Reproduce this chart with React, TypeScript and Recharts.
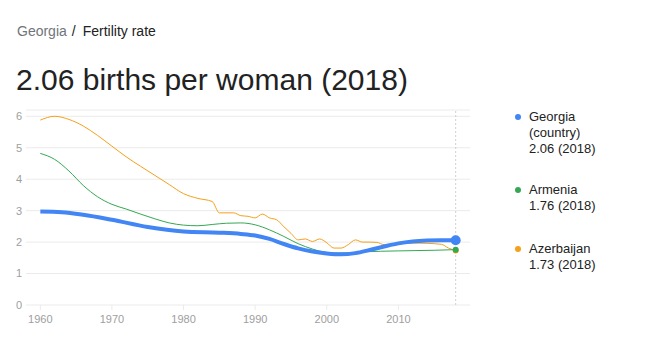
import { CartesianGrid, Line, LineChart, ReferenceLine, XAxis, YAxis } from 'recharts';

const georgiaYears = [1960, 1963, 1966, 1970, 1975, 1980, 1985, 1988, 1990, 1992, 1994, 1996, 1998, 2000, 2002, 2004, 2006, 2008, 2010, 2012, 2014, 2016, 2018];
const georgiaRate = [2.97, 2.95, 2.87, 2.71, 2.48, 2.34, 2.3, 2.26, 2.21, 2.1, 1.94, 1.8, 1.7, 1.64, 1.61, 1.65, 1.75, 1.86, 1.96, 2.02, 2.05, 2.06, 2.06];

const armeniaYears = [1960, 1962, 1964, 1966, 1968, 1970, 1972, 1974, 1976, 1978, 1980, 1982, 1984, 1986, 1988, 1990, 1992, 1994, 1996, 1998, 2000, 2002, 2005, 2010, 2015, 2018];
const armeniaRate = [4.82, 4.63, 4.26, 3.8, 3.44, 3.2, 3.05, 2.89, 2.74, 2.61, 2.54, 2.52, 2.56, 2.6, 2.61, 2.55, 2.39, 2.18, 1.95, 1.78, 1.67, 1.65, 1.69, 1.72, 1.74, 1.76];

const azerbaijanYears = [1960, 1962, 1964, 1966, 1968, 1970, 1972, 1974, 1976, 1978, 1980, 1982, 1984, 1985, 1987, 1988, 1989, 1990, 1991, 1992, 1993, 1994, 1995, 1996, 1997, 1998, 1999, 2000, 2001, 2002, 2003, 2004, 2005, 2006, 2007, 2008, 2010, 2012, 2014, 2016, 2017, 2018];
const azerbaijanRate = [5.88, 6.0, 5.9, 5.69, 5.39, 5.05, 4.71, 4.41, 4.12, 3.83, 3.54, 3.39, 3.29, 2.93, 2.93, 2.84, 2.82, 2.77, 2.89, 2.77, 2.71, 2.49, 2.28, 2.07, 2.1, 2.02, 2.1, 1.98, 1.81, 1.81, 1.92, 2.07, 2.0, 2.0, 1.99, 1.92, 1.95, 1.97, 1.96, 1.93, 1.81, 1.73];

const xTicks = [1960, 1970, 1980, 1990, 2000, 2010];
const yTicks = [0, 1, 2, 3, 4, 5, 6];

const toPoints = (years: number[], rates: number[]) => years.map((year, i) => ({ year, rate: rates[i] }));

const series = [
  { name: 'Georgia (country)', color: '#4285f4', width: 4, r: 5, data: toPoints(georgiaYears, georgiaRate) },
  { name: 'Armenia', color: '#34a853', width: 1, r: 3, data: toPoints(armeniaYears, armeniaRate) },
  { name: 'Azerbaijan', color: '#f5a01a', width: 1, r: 3, data: toPoints(azerbaijanYears, azerbaijanRate) },
];

const font = '"Liberation Sans", Arial, sans-serif';
const tickStyle = { fill: '#9e9e9e', fontSize: 11, fontFamily: font };

function endDot(color: string, r: number, last: number) {
  return (props: any) =>
    props.index === last ? (
      <circle key={`end-${color}`} cx={props.cx} cy={props.cy} r={r} fill={color} stroke="none" />
    ) : (
      <g key={`d-${color}-${props.index}`} />
    );
}

export default function App() {
  const lastYear = georgiaYears[georgiaYears.length - 1];
  return (
    <div style={{ position: 'absolute', left: 0, top: 0, width: 666, height: 360, fontFamily: font, background: '#fff' }}>
      <div style={{ position: 'absolute', left: 17, top: 24, fontSize: 14, lineHeight: '14px', color: '#222', whiteSpace: 'nowrap' }}>
        <span style={{ color: '#70757a' }}>Georgia</span>
        <span style={{ margin: '0 7px 0 5px' }}>/</span>
        Fertility rate
      </div>
      <div style={{ position: 'absolute', left: 16, top: 65, fontSize: 30, lineHeight: '30px', color: '#222', whiteSpace: 'nowrap' }}>
        {georgiaRate[georgiaRate.length - 1].toFixed(2)} births per woman ({lastYear})
      </div>

      <LineChart
        width={490}
        height={340}
        margin={{ top: 110, right: 20, bottom: 5, left: 0 }}
        style={{ position: 'absolute', left: 0, top: 0 }}
      >
        <CartesianGrid vertical={false} stroke="#ebebeb" />
        <XAxis
          dataKey="year"
          type="number"
          domain={[1958, 2020]}
          ticks={xTicks}
          axisLine={false}
          tickLine={{ stroke: '#ebebeb' }}
          tickSize={5}
          tickMargin={5}
          height={30}
          tick={tickStyle}
          allowDuplicatedCategory={false}
        />
        <YAxis
          domain={[0, 6.2]}
          ticks={yTicks}
          axisLine={false}
          tickLine={false}
          tickSize={4}
          tickMargin={0}
          width={26}
          tick={tickStyle}
        />
        <ReferenceLine x={lastYear} stroke="#d0d0d0" strokeDasharray="2 2" />
        {[...series].reverse().map((s) => (
          <Line
            key={s.name}
            data={s.data}
            dataKey="rate"
            name={s.name}
            type="monotone"
            stroke={s.color}
            strokeWidth={s.width}
            dot={endDot(s.color, s.r, s.data.length - 1)}
            activeDot={false}
            isAnimationActive={false}
          />
        ))}
      </LineChart>

      {series.map((s, i) => {
        const tops = [109, 182, 241];
        const last = s.data[s.data.length - 1];
        return (
          <div key={s.name} style={{ position: 'absolute', left: 515, top: tops[i], fontSize: 13, lineHeight: '16px', color: '#222' }}>
            <span
              style={{ position: 'absolute', left: 0, top: 5, width: 6, height: 6, borderRadius: 3, background: s.color }}
            />
            <div style={{ marginLeft: 14, width: 90 }}>
              <div>{s.name}</div>
              <div>
                {last.rate.toFixed(2)} ({last.year})
              </div>
            </div>
          </div>
        );
      })}
    </div>
  );
}
